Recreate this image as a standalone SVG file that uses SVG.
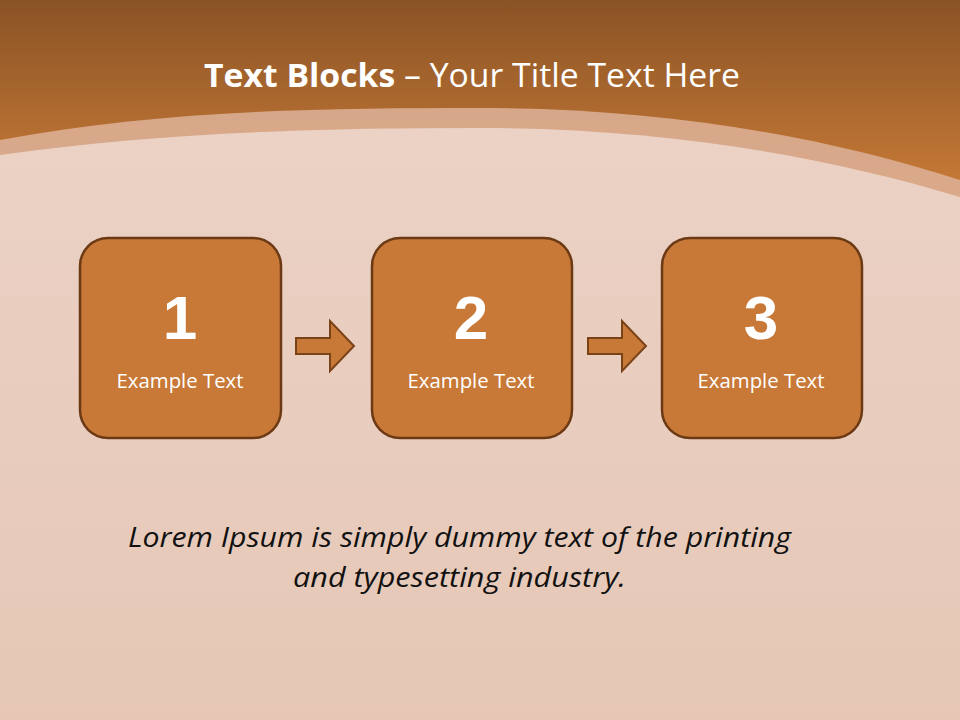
<svg xmlns="http://www.w3.org/2000/svg" width="960" height="720" viewBox="0 0 960 720">
<defs>
<linearGradient id="top" x1="0" y1="0" x2="0" y2="1">
<stop offset="0" stop-color="#8A5325"/>
<stop offset="1" stop-color="#CC7D38"/>
</linearGradient>
<linearGradient id="body" x1="0" y1="0" x2="0" y2="1">
<stop offset="0" stop-color="#EBD2C5"/>
<stop offset="1" stop-color="#E6C7B6"/>
</linearGradient>
<style>
.box{fill:#C87937;stroke:#6B3A14;stroke-width:2.5}
.arr{fill:#C87937;stroke:#7A4217;stroke-width:2}
.num{font-family:"Liberation Sans",Arial,sans-serif;font-weight:bold;font-size:62px;fill:#FFFFFF;text-anchor:middle}
.lbl{font-family:"Open Sans","Noto Sans",sans-serif;font-size:20px;fill:#FFFFFF;text-anchor:middle}
.title{font-family:"Open Sans","Noto Sans",sans-serif;font-size:33px;fill:#FFFFFF;text-anchor:middle}
.body{font-family:"Open Sans","Noto Sans",sans-serif;font-style:italic;font-size:28px;fill:#111111;text-anchor:middle}
</style>
</defs>
<rect width="960" height="720" fill="url(#body)"/>
<rect width="960" height="205" fill="url(#top)"/>
<path d="M0,140 C160,110 320,108 480,108 C660,108 820,135 960,180 L960,720 L0,720 Z" fill="#DBAE94" opacity="0.9"/>
<path d="M0,155 C160,132 320,128 480,128 C660,128 820,155 960,197 L960,720 L0,720 Z" fill="url(#body)"/>
<text class="title" x="472" y="87" textLength="536" lengthAdjust="spacingAndGlyphs"><tspan font-weight="bold">Text Blocks</tspan> – Your Title Text Here</text>
<g id="connectors">
<path class="arr" d="M296,338 L330,338 L330,321 L354,346 L330,371 L330,354 L296,354 Z"/>
<path class="arr" d="M588,338 L622,338 L622,321 L646,346 L622,371 L622,354 L588,354 Z"/>
</g>
<g id="node1">
<rect class="box" x="80" y="238" width="201" height="200" rx="28"/>
<text class="num" x="180" y="339">1</text>
<text class="lbl" x="180" y="388" textLength="127" lengthAdjust="spacingAndGlyphs">Example Text</text>
</g>
<g id="node2">
<rect class="box" x="372" y="238" width="200" height="200" rx="28"/>
<text class="num" x="471" y="339">2</text>
<text class="lbl" x="471" y="388" textLength="127" lengthAdjust="spacingAndGlyphs">Example Text</text>
</g>
<g id="node3">
<rect class="box" x="662" y="238" width="200" height="200" rx="28"/>
<text class="num" x="761" y="339">3</text>
<text class="lbl" x="761" y="388" textLength="127" lengthAdjust="spacingAndGlyphs">Example Text</text>
</g>
<g id="caption">
<text class="body" x="459.5" y="547" textLength="663" lengthAdjust="spacingAndGlyphs">Lorem Ipsum is simply dummy text of the printing</text>
<text class="body" x="459.5" y="587" textLength="333" lengthAdjust="spacingAndGlyphs">and typesetting industry.</text>
</g>
</svg>
